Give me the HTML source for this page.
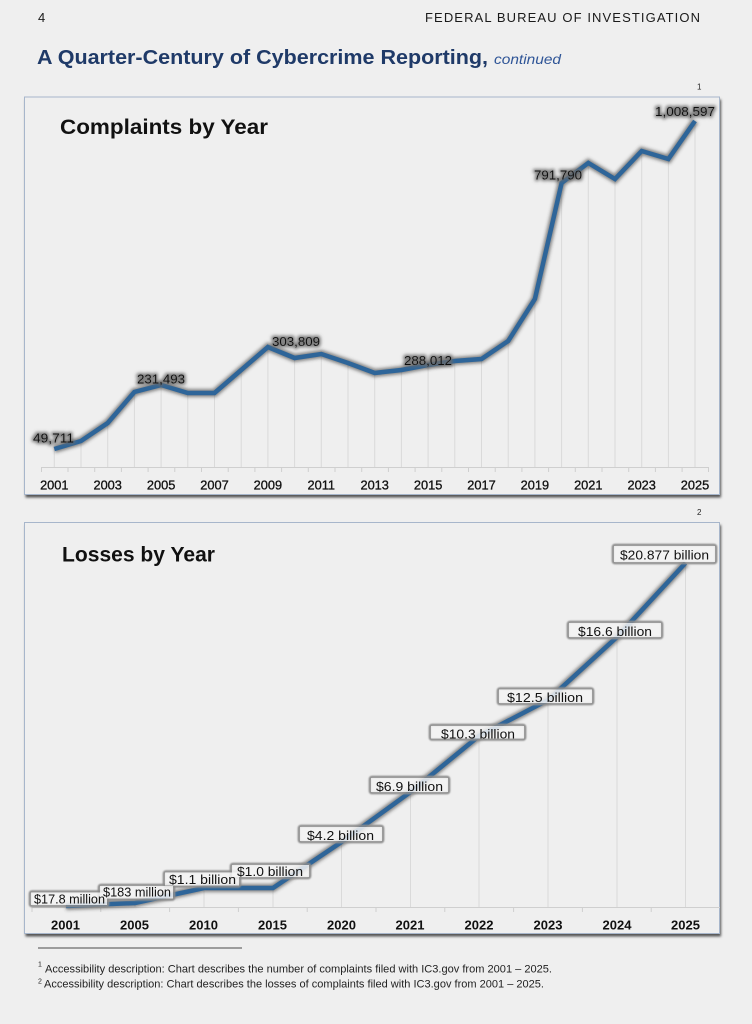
<!DOCTYPE html>
<html>
<head>
<meta charset="utf-8">
<style>
  html,body{margin:0;padding:0;background:#efefef;}
  svg{display:block;}
  text{font-family:"Liberation Sans",Arial,sans-serif;}
</style>
</head>
<body>
<svg width="752" height="1024" viewBox="0 0 752 1024" xmlns="http://www.w3.org/2000/svg">
  <defs>
    <filter id="boxsh" x="-5%" y="-5%" width="110%" height="115%">
      <feDropShadow dx="1.5" dy="3" stdDeviation="1.4" flood-color="#000" flood-opacity="0.65"/>
    </filter>
    <filter id="blur15" x="-10%" y="-10%" width="120%" height="120%">
      <feGaussianBlur stdDeviation="1.6"/>
    </filter>
    <filter id="blur08" x="-10%" y="-30%" width="120%" height="160%">
      <feGaussianBlur stdDeviation="0.9"/>
    </filter>
    <filter id="tglow" x="-20%" y="-50%" width="140%" height="200%">
      <feMorphology in="SourceAlpha" operator="dilate" radius="1.3" result="d"/>
      <feGaussianBlur in="d" stdDeviation="1.6" result="b"/>
      <feFlood flood-color="#6a6a6a" flood-opacity="0.85"/>
      <feComposite in2="b" operator="in" result="g"/>
      <feMerge><feMergeNode in="g"/><feMergeNode in="SourceGraphic"/></feMerge>
    </filter>
  </defs>

  <rect x="0" y="0" width="752" height="1024" fill="#efefef"/>

  <!-- Header -->
  <text x="38" y="22" font-size="13" fill="#1a1a1a">4</text>
  <text x="425" y="22" font-size="13" fill="#1a1a1a" textLength="275" lengthAdjust="spacing">FEDERAL BUREAU OF INVESTIGATION</text>
  <text x="37" y="64" font-size="20.5" font-weight="bold" fill="#1f3a68" textLength="451" lengthAdjust="spacingAndGlyphs">A Quarter-Century of Cybercrime Reporting,</text>
  <text x="494" y="64" font-size="14" font-style="italic" fill="#2f5597" textLength="67" lengthAdjust="spacingAndGlyphs">continued</text>

  <!-- Chart 1 box -->
  <text x="697" y="89.5" font-size="8" fill="#222">1</text>
  <rect x="24" y="96.5" width="695.5" height="398" fill="#efefef" filter="url(#boxsh)"/>
  <rect x="24.5" y="97" width="695" height="397.5" fill="#efefef" stroke="#a7b6cb" stroke-width="1"/>
  <text x="60" y="134" font-size="21" font-weight="bold" fill="#111" textLength="208" lengthAdjust="spacingAndGlyphs">Complaints by Year</text>

  <!-- Chart 1 drop lines -->
  <g stroke="#dadada" stroke-width="1">
    <line x1="54.3" y1="449" x2="54.3" y2="467"/>
    <line x1="81" y1="441" x2="81" y2="467"/>
    <line x1="107.7" y1="423" x2="107.7" y2="467"/>
    <line x1="134.4" y1="392" x2="134.4" y2="467"/>
    <line x1="161.1" y1="385" x2="161.1" y2="467"/>
    <line x1="187.8" y1="393" x2="187.8" y2="467"/>
    <line x1="214.5" y1="393" x2="214.5" y2="467"/>
    <line x1="241.2" y1="370" x2="241.2" y2="467"/>
    <line x1="267.9" y1="347" x2="267.9" y2="467"/>
    <line x1="294.6" y1="358" x2="294.6" y2="467"/>
    <line x1="321.3" y1="354" x2="321.3" y2="467"/>
    <line x1="348" y1="363" x2="348" y2="467"/>
    <line x1="374.7" y1="373" x2="374.7" y2="467"/>
    <line x1="401.4" y1="370" x2="401.4" y2="467"/>
    <line x1="428.1" y1="365" x2="428.1" y2="467"/>
    <line x1="454.8" y1="361" x2="454.8" y2="467"/>
    <line x1="481.5" y1="359" x2="481.5" y2="467"/>
    <line x1="508.2" y1="341" x2="508.2" y2="467"/>
    <line x1="534.9" y1="299" x2="534.9" y2="467"/>
    <line x1="561.6" y1="183" x2="561.6" y2="467"/>
    <line x1="588.3" y1="163" x2="588.3" y2="467"/>
    <line x1="615" y1="179" x2="615" y2="467"/>
    <line x1="641.7" y1="151" x2="641.7" y2="467"/>
    <line x1="668.4" y1="159" x2="668.4" y2="467"/>
    <line x1="695" y1="121" x2="695" y2="467"/>
  </g>
  <!-- Chart 1 axis -->
  <g stroke="#cfcfcf" stroke-width="1">
    <line x1="41" y1="467.5" x2="709" y2="467.5"/>
    <line x1="41.5" y1="467" x2="41.5" y2="472"/><line x1="68" y1="467" x2="68" y2="472"/>
    <line x1="94.7" y1="467" x2="94.7" y2="472"/><line x1="121.4" y1="467" x2="121.4" y2="472"/>
    <line x1="148.1" y1="467" x2="148.1" y2="472"/><line x1="174.8" y1="467" x2="174.8" y2="472"/>
    <line x1="201.5" y1="467" x2="201.5" y2="472"/><line x1="228.2" y1="467" x2="228.2" y2="472"/>
    <line x1="254.9" y1="467" x2="254.9" y2="472"/><line x1="281.6" y1="467" x2="281.6" y2="472"/>
    <line x1="308.3" y1="467" x2="308.3" y2="472"/><line x1="335" y1="467" x2="335" y2="472"/>
    <line x1="361.7" y1="467" x2="361.7" y2="472"/><line x1="388.4" y1="467" x2="388.4" y2="472"/>
    <line x1="415.1" y1="467" x2="415.1" y2="472"/><line x1="441.8" y1="467" x2="441.8" y2="472"/>
    <line x1="468.5" y1="467" x2="468.5" y2="472"/><line x1="495.2" y1="467" x2="495.2" y2="472"/>
    <line x1="521.9" y1="467" x2="521.9" y2="472"/><line x1="548.6" y1="467" x2="548.6" y2="472"/>
    <line x1="575.3" y1="467" x2="575.3" y2="472"/><line x1="602" y1="467" x2="602" y2="472"/>
    <line x1="628.7" y1="467" x2="628.7" y2="472"/><line x1="655.4" y1="467" x2="655.4" y2="472"/>
    <line x1="682.1" y1="467" x2="682.1" y2="472"/><line x1="708.5" y1="467" x2="708.5" y2="472"/>
  </g>
  <g font-size="12.8" fill="#111" stroke="#111" stroke-width="0.3" text-anchor="middle">
    <text x="54.3" y="489.5">2001</text>
    <text x="107.7" y="489.5">2003</text>
    <text x="161.1" y="489.5">2005</text>
    <text x="214.5" y="489.5">2007</text>
    <text x="267.9" y="489.5">2009</text>
    <text x="321.3" y="489.5">2011</text>
    <text x="374.7" y="489.5">2013</text>
    <text x="428.1" y="489.5">2015</text>
    <text x="481.5" y="489.5">2017</text>
    <text x="534.9" y="489.5">2019</text>
    <text x="588.3" y="489.5">2021</text>
    <text x="641.7" y="489.5">2023</text>
    <text x="695" y="489.5">2025</text>
  </g>
  <!-- Chart 1 line -->
  <polyline fill="none" stroke="#3a3a3a" stroke-opacity="0.6" stroke-width="8" stroke-linejoin="miter" filter="url(#blur15)"
    points="54.3,449 81,441 107.7,423 134.4,392 161.1,385 187.8,393 214.5,393 241.2,370 267.9,347 294.6,358 321.3,354 348,363 374.7,373 401.4,370 428.1,365 454.8,361 481.5,359 508.2,341 534.9,299 561.6,183 588.3,163 615,179 641.7,151 668.4,159 695,121"/>
  <polyline fill="none" stroke="#2e6599" stroke-width="4.5" stroke-linejoin="miter"
    points="54.3,449 81,441 107.7,423 134.4,392 161.1,385 187.8,393 214.5,393 241.2,370 267.9,347 294.6,358 321.3,354 348,363 374.7,373 401.4,370 428.1,365 454.8,361 481.5,359 508.2,341 534.9,299 561.6,183 588.3,163 615,179 641.7,151 668.4,159 695,121"/>
  <!-- Chart 1 labels -->
  <g font-size="13" fill="#111" filter="url(#tglow)">
    <text x="33" y="442.5" textLength="41" lengthAdjust="spacingAndGlyphs">49,711</text>
    <text x="137" y="383.5" textLength="48" lengthAdjust="spacingAndGlyphs">231,493</text>
    <text x="272" y="346" textLength="48" lengthAdjust="spacingAndGlyphs">303,809</text>
    <text x="404" y="365" textLength="48" lengthAdjust="spacingAndGlyphs">288,012</text>
    <text x="534" y="179.5" textLength="48" lengthAdjust="spacingAndGlyphs">791,790</text>
    <text x="655" y="116" textLength="60" lengthAdjust="spacingAndGlyphs">1,008,597</text>
  </g>

  <!-- Chart 2 box -->
  <text x="697" y="515" font-size="8" fill="#222">2</text>
  <rect x="24" y="522" width="695.5" height="411.5" fill="#efefef" filter="url(#boxsh)"/>
  <rect x="24.5" y="522.5" width="695" height="411" fill="#efefef" stroke="#a7b6cb" stroke-width="1"/>
  <text x="62" y="561.5" font-size="21" font-weight="bold" fill="#111" textLength="153" lengthAdjust="spacingAndGlyphs">Losses by Year</text>

  <!-- Chart 2 drop lines -->
  <g stroke="#dadada" stroke-width="1">
    <line x1="66" y1="906" x2="66" y2="907"/>
    <line x1="135" y1="903" x2="135" y2="907"/>
    <line x1="204" y1="888" x2="204" y2="907"/>
    <line x1="273" y1="888" x2="273" y2="907"/>
    <line x1="341.5" y1="842" x2="341.5" y2="907"/>
    <line x1="410.5" y1="792" x2="410.5" y2="907"/>
    <line x1="479" y1="736" x2="479" y2="907"/>
    <line x1="548" y1="700" x2="548" y2="907"/>
    <line x1="617" y1="637" x2="617" y2="907"/>
    <line x1="685.5" y1="563" x2="685.5" y2="907"/>
  </g>
  <g stroke="#cfcfcf" stroke-width="1">
    <line x1="32" y1="907.5" x2="720" y2="907.5"/>
    <line x1="32" y1="907" x2="32" y2="912"/><line x1="100.8" y1="907" x2="100.8" y2="912"/>
    <line x1="169.6" y1="907" x2="169.6" y2="912"/><line x1="238.4" y1="907" x2="238.4" y2="912"/>
    <line x1="307.2" y1="907" x2="307.2" y2="912"/><line x1="376" y1="907" x2="376" y2="912"/>
    <line x1="444.8" y1="907" x2="444.8" y2="912"/><line x1="513.6" y1="907" x2="513.6" y2="912"/>
    <line x1="582.4" y1="907" x2="582.4" y2="912"/><line x1="651.2" y1="907" x2="651.2" y2="912"/>
  </g>
  <g font-size="13" font-weight="bold" fill="#111" text-anchor="middle">
    <text x="65.5" y="929.3">2001</text>
    <text x="134.5" y="929.3">2005</text>
    <text x="203.5" y="929.3">2010</text>
    <text x="272.5" y="929.3">2015</text>
    <text x="341.5" y="929.3">2020</text>
    <text x="410" y="929.3">2021</text>
    <text x="479" y="929.3">2022</text>
    <text x="548" y="929.3">2023</text>
    <text x="617" y="929.3">2024</text>
    <text x="685.5" y="929.3">2025</text>
  </g>
  <!-- Chart 2 line -->
  <polyline fill="none" stroke="#3a3a3a" stroke-opacity="0.6" stroke-width="8" filter="url(#blur15)"
    points="66,906 135,903 204,888 273,888 341.5,842 410.5,792 479,736 548,700 617,637 685.5,563"/>
  <polyline fill="none" stroke="#2e6599" stroke-width="4.5"
    points="66,906 135,903 204,888 273,888 341.5,842 410.5,792 479,736 548,700 617,637 685.5,563"/>

  <!-- Chart 2 label boxes -->
  <g fill="none" stroke="#8c8c8c" stroke-width="2.6" filter="url(#blur08)">
    <rect x="30" y="891.5" width="78" height="14.5" rx="2"/>
    <rect x="99" y="885" width="75" height="14.5" rx="2"/>
    <rect x="164" y="871.5" width="76" height="15" rx="2"/>
    <rect x="231" y="864" width="79" height="14" rx="2"/>
    <rect x="299" y="826" width="84" height="16" rx="2"/>
    <rect x="370" y="777" width="79" height="16" rx="2"/>
    <rect x="430" y="725" width="95" height="14.5" rx="2"/>
    <rect x="498" y="688.5" width="95" height="15.5" rx="2"/>
    <rect x="568" y="622" width="94" height="16" rx="2"/>
    <rect x="613" y="545" width="103" height="18" rx="2"/>
  </g>
  <g fill="#f3f3f3" fill-opacity="0.85">
    <rect x="31" y="892.5" width="76" height="12.5"/>
    <rect x="100" y="886" width="73" height="12.5"/>
    <rect x="165" y="872.5" width="74" height="13"/>
    <rect x="232" y="865" width="77" height="12"/>
    <rect x="300" y="827" width="82" height="14"/>
    <rect x="371" y="778" width="77" height="14"/>
    <rect x="431" y="726" width="93" height="12.5"/>
    <rect x="499" y="689.5" width="93" height="13.5"/>
    <rect x="569" y="623" width="92" height="14"/>
    <rect x="614" y="546" width="101" height="16"/>
  </g>
  <g font-size="13" fill="#111">
    <text x="34" y="903.3" textLength="71" lengthAdjust="spacingAndGlyphs">$17.8 million</text>
    <text x="103" y="896.7" textLength="68" lengthAdjust="spacingAndGlyphs">$183 million</text>
    <text x="169" y="884" textLength="67" lengthAdjust="spacingAndGlyphs">$1.1 billion</text>
    <text x="237" y="876" textLength="66" lengthAdjust="spacingAndGlyphs">$1.0 billion</text>
    <text x="307" y="840" textLength="67" lengthAdjust="spacingAndGlyphs">$4.2 billion</text>
    <text x="376" y="791" textLength="67" lengthAdjust="spacingAndGlyphs">$6.9 billion</text>
    <text x="441" y="738.5" textLength="74" lengthAdjust="spacingAndGlyphs">$10.3 billion</text>
    <text x="507" y="702" textLength="76" lengthAdjust="spacingAndGlyphs">$12.5 billion</text>
    <text x="578" y="636" textLength="74" lengthAdjust="spacingAndGlyphs">$16.6 billion</text>
    <text x="620" y="559.3" textLength="89" lengthAdjust="spacingAndGlyphs">$20.877 billion</text>
  </g>

  <!-- Footnotes -->
  <line x1="38" y1="948" x2="242" y2="948" stroke="#4a4a4a" stroke-width="1"/>
  <text x="38" y="966.7" font-size="7" fill="#222">1</text>
  <text x="45" y="972.3" font-size="11" fill="#222" textLength="507" lengthAdjust="spacingAndGlyphs">Accessibility description: Chart describes the number of complaints filed with IC3.gov from 2001 – 2025.</text>
  <text x="38" y="983.5" font-size="7" fill="#222">2</text>
  <text x="44" y="987.6" font-size="11" fill="#222" textLength="500" lengthAdjust="spacingAndGlyphs">Accessibility description: Chart describes the losses of complaints filed with IC3.gov from 2001 – 2025.</text>
</svg>
</body>
</html>
